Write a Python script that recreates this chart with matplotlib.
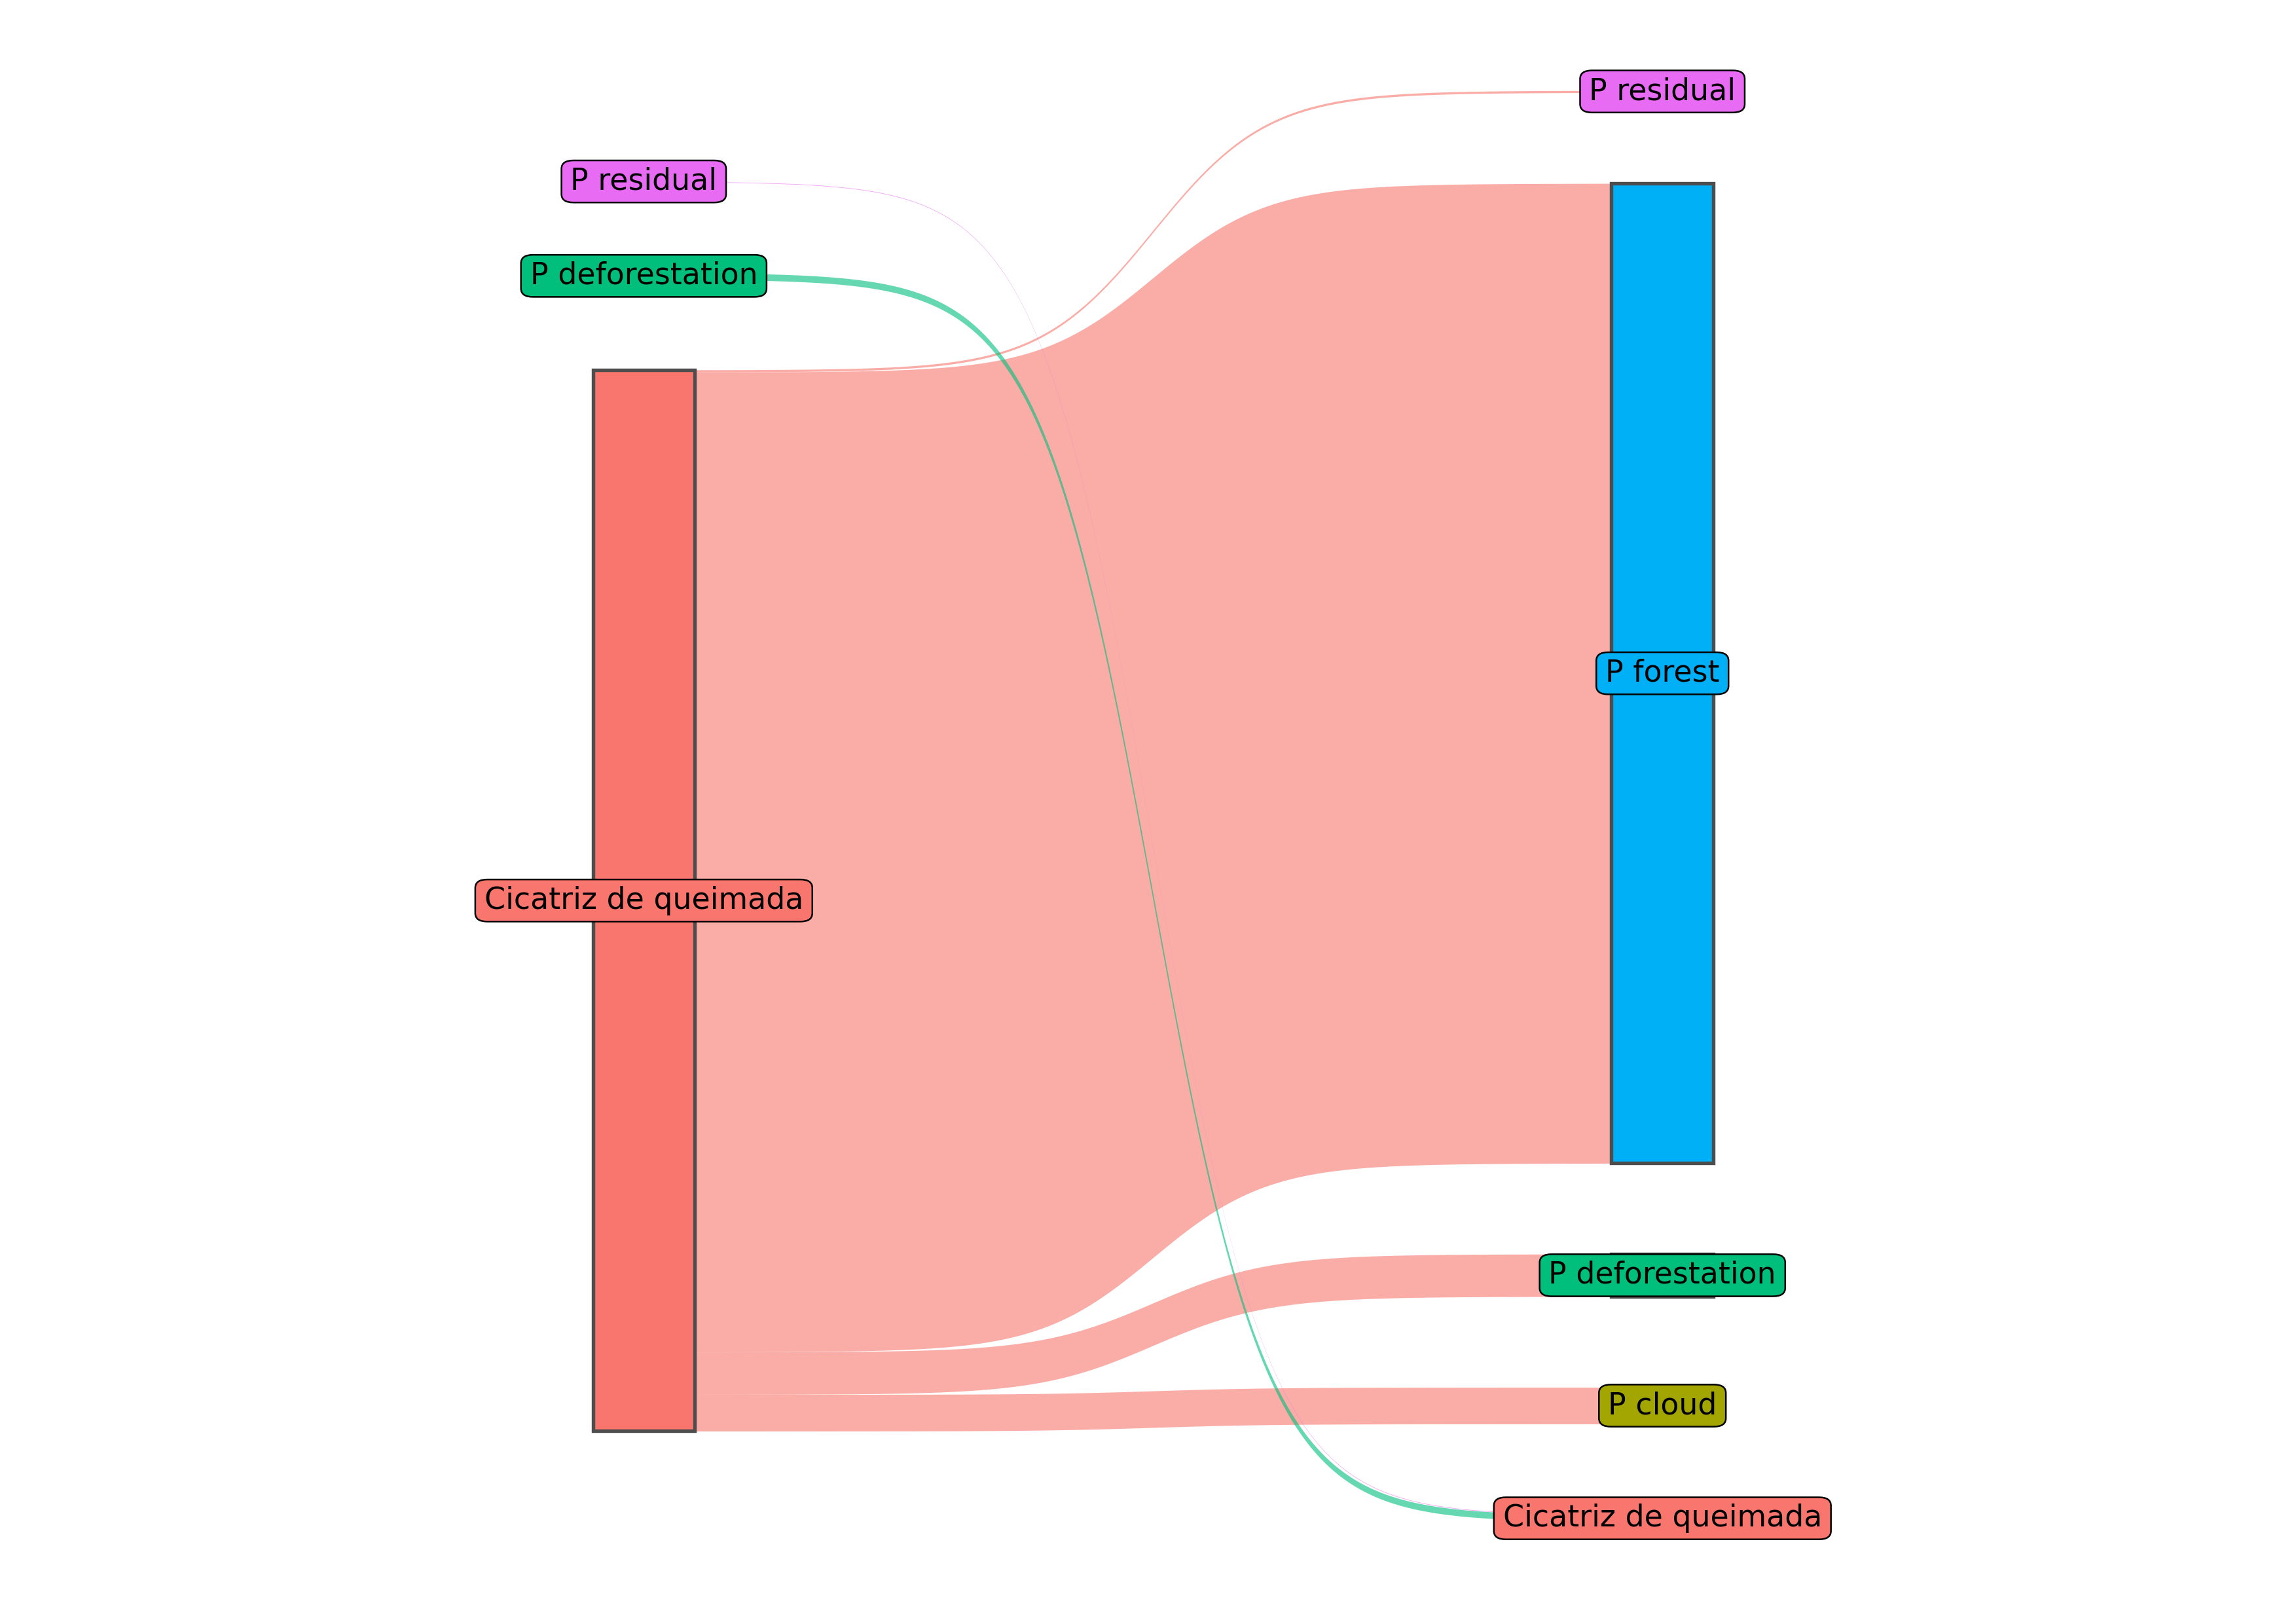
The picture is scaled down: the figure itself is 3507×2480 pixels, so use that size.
import numpy as np
import matplotlib.pyplot as plt
from matplotlib.patches import Rectangle

# node order in each column, top to bottom
left_nodes = ['P residual', 'P deforestation', 'Cicatriz de queimada']
right_nodes = ['P residual', 'P forest', 'P deforestation', 'P cloud', 'Cicatriz de queimada']

# flows from the left column to the right column
flow_from = ['Cicatriz de queimada', 'Cicatriz de queimada', 'Cicatriz de queimada',
             'Cicatriz de queimada', 'P deforestation', 'P residual']
flow_to = ['P residual', 'P forest', 'P deforestation', 'P cloud',
           'Cicatriz de queimada', 'Cicatriz de queimada']
flow_value = [15, 6690, 290, 250, 45, 4]

node_colors = {'Cicatriz de queimada': '#F8766D', 'P cloud': '#A3A500',
               'P deforestation': '#00BF7D', 'P forest': '#00B0F6',
               'P residual': '#E76BF3'}

space = 620
node_width = 0.1
smooth = 8


def column_layout(nodes, sizes):
    total = sum(sizes[n] for n in nodes) + space * (len(nodes) - 1)
    top = total / 2
    pos = {}
    for n in nodes:
        pos[n] = (top, top - sizes[n])
        top -= sizes[n] + space
    return pos


left_size = {n: 0 for n in left_nodes}
right_size = {n: 0 for n in right_nodes}
for s, t, v in zip(flow_from, flow_to, flow_value):
    left_size[s] += v
    right_size[t] += v

left_pos = column_layout(left_nodes, left_size)
right_pos = column_layout(right_nodes, right_size)

# stack the flow ends inside each node
idx = range(len(flow_value))
src_y = {}
for n in left_nodes:
    y = left_pos[n][0]
    for i in sorted([i for i in idx if flow_from[i] == n], key=lambda i: right_nodes.index(flow_to[i])):
        src_y[i] = (y, y - flow_value[i])
        y -= flow_value[i]
dst_y = {}
for n in right_nodes:
    y = right_pos[n][0]
    for i in sorted([i for i in idx if flow_to[i] == n], key=lambda i: left_nodes.index(flow_from[i])):
        dst_y[i] = (y, y - flow_value[i])
        y -= flow_value[i]

fig = plt.figure(figsize=(3507 / 300, 2480 / 300), dpi=300)
ax = fig.add_axes([0, 0, 1, 1])
ax.set_xlim(0.368, 2.622)
ax.set_ylim(-5584, 5504)
ax.axis('off')

x0, x1 = 1 + node_width / 2, 2 - node_width / 2
t = np.linspace(-smooth, smooth, 300)
sig = np.exp(t) / (np.exp(t) + 1)
xs = (t + smooth) / (2 * smooth) * (x1 - x0) + x0

for i in idx:
    top = src_y[i][0] + (dst_y[i][0] - src_y[i][0]) * sig
    bot = src_y[i][1] + (dst_y[i][1] - src_y[i][1]) * sig
    ax.fill_between(xs, bot, top, color=node_colors[flow_from[i]], alpha=0.6, lw=0, zorder=1)

for x, pos in ((1, left_pos), (2, right_pos)):
    for n, (top, bot) in pos.items():
        ax.add_patch(Rectangle((x - node_width / 2, bot), node_width, top - bot,
                               facecolor=node_colors[n], edgecolor='#4D4D4D', lw=1.3, zorder=2))
        ax.text(x, (top + bot) / 2, n, ha='center', va='center', fontsize=11, zorder=3,
                bbox=dict(boxstyle='round,pad=0.3,rounding_size=0.4', fc=node_colors[n],
                          ec='black', lw=0.6, mutation_aspect=0.7))

fig.savefig('out.png', dpi=300)
